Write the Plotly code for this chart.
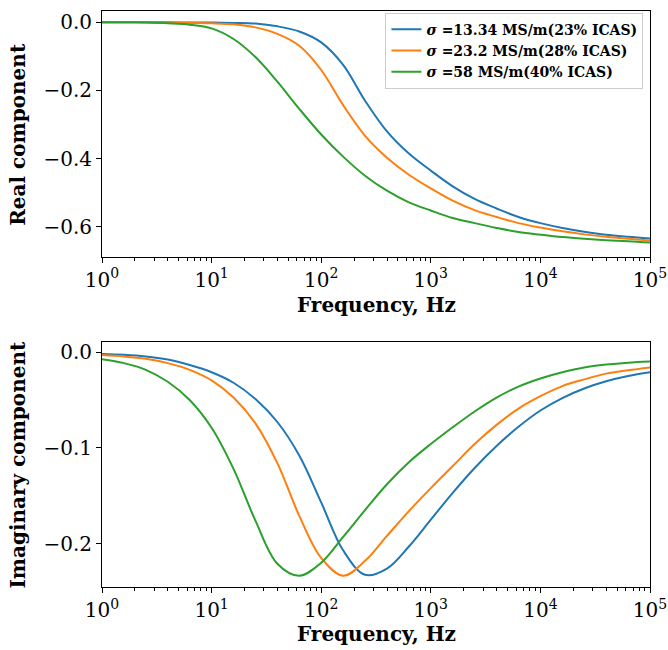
import plotly.graph_objects as go

# ---- data (log-spaced frequencies, 0.2 decade steps) ----
freq_hz = [1, 1.585, 2.512, 3.981, 6.31, 10, 15.85, 25.12, 39.81, 63.1, 100, 158.5, 251.2,
           398.1, 631, 1000, 1585, 2512, 3981, 6310, 10000, 15849, 25119, 39811, 63096, 100000]

series_names = ["<b><i>σ</i> =13.34 MS/m(23% ICAS)</b>",
                "<b><i>σ</i> =23.2 MS/m(28% ICAS)</b>",
                "<b><i>σ</i> =58 MS/m(40% ICAS)</b>"]

real_s1 = [0, 0, 0, 0, -0.001, -0.001, -0.002, -0.004, -0.012, -0.027, -0.059, -0.125, -0.230,
           -0.320, -0.385, -0.435, -0.481, -0.518, -0.546, -0.571, -0.589, -0.603, -0.614,
           -0.623, -0.629, -0.634]
real_s2 = [0, 0, 0, -0.001, -0.002, -0.003, -0.006, -0.015, -0.034, -0.069, -0.140, -0.243,
           -0.333, -0.397, -0.447, -0.487, -0.523, -0.551, -0.571, -0.589, -0.602, -0.613,
           -0.622, -0.629, -0.635, -0.640]
real_s3 = [0, 0, -0.001, -0.003, -0.007, -0.018, -0.049, -0.102, -0.174, -0.254, -0.329, -0.394,
           -0.450, -0.494, -0.528, -0.552, -0.574, -0.589, -0.603, -0.615, -0.623, -0.630,
           -0.635, -0.639, -0.642, -0.646]

imag_s1 = [-0.002, -0.0028, -0.0045, -0.0078, -0.0135, -0.021, -0.032, -0.049, -0.073, -0.108,
           -0.157, -0.207, -0.2325, -0.226, -0.203, -0.175, -0.147, -0.121, -0.098, -0.078,
           -0.061, -0.048, -0.038, -0.0305, -0.025, -0.021]
imag_s2 = [-0.003, -0.0045, -0.007, -0.0115, -0.0185, -0.0295, -0.0475, -0.0745, -0.116, -0.171,
           -0.215, -0.2335, -0.218, -0.192, -0.166, -0.142, -0.119, -0.096, -0.076, -0.059,
           -0.046, -0.0355, -0.0285, -0.0225, -0.019, -0.016]
imag_s3 = [-0.0075, -0.0115, -0.0185, -0.031, -0.050, -0.079, -0.122, -0.176, -0.221, -0.2335,
           -0.220, -0.193, -0.165, -0.138, -0.115, -0.096, -0.0785, -0.062, -0.0475, -0.036,
           -0.0275, -0.021, -0.016, -0.013, -0.011, -0.0098]

x_tick_vals = [1, 10, 100, 1000, 10000, 100000]
x_tick_text = ["10<sup>0</sup>", "10<sup>1</sup>", "10<sup>2</sup>",
               "10<sup>3</sup>", "10<sup>4</sup>", "10<sup>5</sup>"]
real_tick_vals = [0, -0.2, -0.4, -0.6]
real_tick_text = ["0.0", "−0.2", "−0.4", "−0.6"]
imag_tick_vals = [0, -0.1, -0.2]
imag_tick_text = ["0.0", "−0.1", "−0.2"]

x_title = "<b>Frequency, Hz</b>"
real_title = "<b>Real component</b>"
imag_title = "<b>Imaginary component</b>"

colors = ["#1f77b4", "#ff7f0e", "#2ca02c"]
FONT = "DejaVu Serif"

minor_vals = [m * 10 ** d for d in range(5) for m in range(2, 10)]

fig = go.Figure()
for name, ys, c in zip(series_names, [real_s1, real_s2, real_s3], colors):
    fig.add_trace(go.Scatter(x=freq_hz, y=ys, mode="lines", name=name,
                             line=dict(color=c, width=2, shape="spline", smoothing=1),
                             xaxis="x", yaxis="y"))
for name, ys, c in zip(series_names, [imag_s1, imag_s2, imag_s3], colors):
    fig.add_trace(go.Scatter(x=freq_hz, y=ys, mode="lines", name=name, showlegend=False,
                             line=dict(color=c, width=2, shape="spline", smoothing=1),
                             xaxis="x2", yaxis="y2"))


def xaxis_style(anchor):
    return dict(type="log", range=[0, 5], anchor=anchor, domain=[0, 1], automargin=False,
                tickmode="array", tickvals=x_tick_vals, ticktext=x_tick_text,
                ticks="outside", ticklen=5, tickwidth=1, tickcolor="black",
                showline=True, linecolor="black", linewidth=1, mirror=True,
                showgrid=False, zeroline=False,
                tickfont=dict(family=FONT, size=20, color="black"),
                minor=dict(ticks="outside", ticklen=3, tickwidth=0.8, tickcolor="black",
                           tickvals=minor_vals, showgrid=False))


def yaxis_style(anchor, domain, rng, tv, tt):
    return dict(range=rng, anchor=anchor, domain=domain, automargin=False,
                tickmode="array", tickvals=tv, ticktext=tt,
                ticks="outside", ticklen=5, tickwidth=1, tickcolor="black",
                showline=True, linecolor="black", linewidth=1, mirror=True,
                showgrid=False, zeroline=False,
                tickfont=dict(family=FONT, size=20, color="black"))


title_font = dict(family=FONT, size=20, color="black")
annotations = [
    dict(text=x_title, xref="paper", yref="paper", x=0.5, y=0.4899, showarrow=False,
         xanchor="center", yanchor="middle", font=title_font),
    dict(text=x_title, xref="paper", yref="paper", x=0.5, y=-0.0811, showarrow=False,
         xanchor="center", yanchor="middle", font=title_font),
    dict(text=real_title, xref="paper", yref="paper", x=-0.1533, y=0.7868, showarrow=False,
         textangle=-90, xanchor="center", yanchor="middle", font=title_font),
    dict(text=imag_title, xref="paper", yref="paper", x=-0.1533, y=0.2126, showarrow=False,
         textangle=-90, xanchor="center", yanchor="middle", font=title_font),
]

fig.update_layout(
    width=668, height=650,
    margin=dict(l=102, r=18, t=11, b=63, autoexpand=False),
    paper_bgcolor="white", plot_bgcolor="white",
    font=dict(family=FONT, color="black"),
    xaxis=xaxis_style("y"),
    yaxis=yaxis_style("x", [0.5737, 1], [-0.687, 0.033], real_tick_vals, real_tick_text),
    xaxis2=xaxis_style("y2"),
    yaxis2=yaxis_style("x2", [0, 0.4251], [-0.2453, 0.0104], imag_tick_vals, imag_tick_text),
    annotations=annotations,
    legend=dict(x=0.988, y=0.997, xanchor="right", yanchor="top",
                bgcolor="rgba(255,255,255,0.8)", bordercolor="#cccccc", borderwidth=1,
                font=dict(family=FONT, size=14, color="black"),
                tracegroupgap=0, itemwidth=30),
)

fig.write_html("out.html", config={"displayModeBar": False},
               post_script="document.body.style.margin='0';")
